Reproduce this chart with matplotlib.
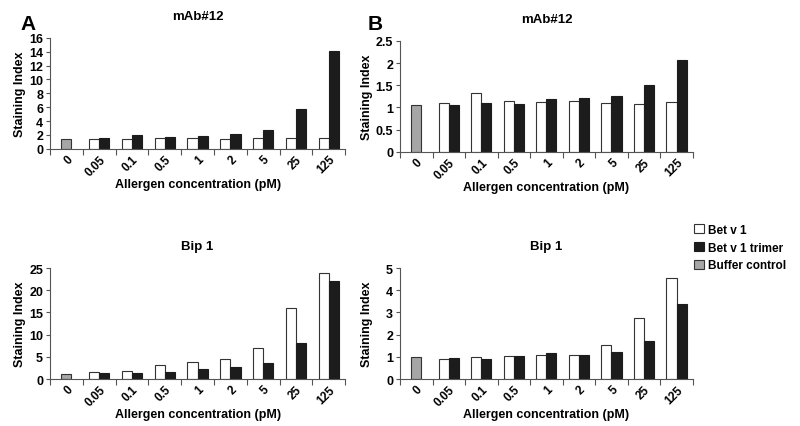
import numpy as np
import matplotlib
matplotlib.use("Agg")
import matplotlib.pyplot as plt
from matplotlib.patches import Patch

plt.rcParams['font.family'] = ['Liberation Sans', 'DejaVu Sans']
plt.rcParams['font.weight'] = 'bold'

concs = ['0', '0.05', '0.1', '0.5', '1', '2', '5', '25', '125']

# buffer control (category 0 only)
buf_a_top = 1.38
buf_b_top = 1.05
buf_a_bot = 1.05
buf_b_bot = 0.98

# Bet v 1 / Bet v 1 trimer for categories 0.05 .. 125
betv1_a_top = [1.4, 1.45, 1.55, 1.55, 1.45, 1.6, 1.6, 1.55]
trimer_a_top = [1.5, 2.05, 1.75, 1.9, 2.15, 2.75, 5.7, 14.1]
betv1_b_top = [1.10, 1.33, 1.15, 1.12, 1.15, 1.10, 1.07, 1.13]
trimer_b_top = [1.05, 1.10, 1.08, 1.20, 1.22, 1.25, 1.51, 2.06]
betv1_a_bot = [1.65, 1.9, 3.05, 3.75, 4.4, 7.0, 16.0, 23.9]
trimer_a_bot = [1.35, 1.3, 1.65, 2.3, 2.7, 3.7, 8.2, 22.1]
betv1_b_bot = [0.90, 0.98, 1.02, 1.07, 1.10, 1.52, 2.76, 4.53]
trimer_b_bot = [0.95, 0.90, 1.02, 1.17, 1.10, 1.20, 1.72, 3.39]

fig = plt.figure(figsize=(8, 4.27), dpi=100)

panels = [
    ([0.0625, 0.649, 0.369, 0.26], 'mAb#12', buf_a_top, betv1_a_top, trimer_a_top, 16, 2, -0.102),
    ([0.5, 0.642, 0.366, 0.26], 'mAb#12', buf_b_top, betv1_b_top, trimer_b_top, 2.5, 0.5, -0.113),
    ([0.0625, 0.110, 0.369, 0.26], 'Bip 1', buf_a_bot, betv1_a_bot, trimer_a_bot, 25, 5, -0.102),
    ([0.5, 0.110, 0.366, 0.26], 'Bip 1', buf_b_bot, betv1_b_bot, trimer_b_bot, 5, 1, -0.113),
]

w = 0.31
edge = '#333333'
for rect, title, buf, wv, bv, ymax, step, ylx in panels:
    ax = fig.add_axes(rect)
    x = np.arange(1, len(concs))
    ax.bar(0, buf, width=w, color='#a6a6a6', edgecolor=edge, linewidth=0.8)
    ax.bar(x - w / 2, wv, width=w, color='white', edgecolor=edge, linewidth=0.8)
    ax.bar(x + w / 2, bv, width=w, color='#1c1c1c', edgecolor='#1c1c1c', linewidth=0.8)
    ax.set_xlim(-0.5, len(concs) - 0.5)
    ax.set_ylim(0, ymax)
    yt = np.arange(0, ymax + step / 2, step)
    ax.set_yticks(yt)
    ax.set_yticklabels(['%g' % v for v in yt], fontsize=9, fontweight='bold')
    ax.set_xticks(np.arange(len(concs)))
    ax.set_xticklabels(concs, rotation=45, ha='right', rotation_mode='anchor',
                       fontsize=8.5, fontweight='bold')
    ax.tick_params(axis='x', which='major', length=0, pad=3)
    ax.set_xticks(np.arange(-0.5, len(concs)), minor=True)
    ax.tick_params(axis='x', which='minor', length=4, width=0.8, color='#555555')
    ax.tick_params(axis='y', length=3, width=0.8, color='#555555', pad=2)
    for s in ['top', 'right']:
        ax.spines[s].set_visible(False)
    for s in ['left', 'bottom']:
        ax.spines[s].set_color('#555555')
        ax.spines[s].set_linewidth(0.8)
    ax.text(0.5, 1.2, title, transform=ax.transAxes, ha='center', va='center',
            fontsize=9.5, fontweight='bold')
    ax.set_ylabel('Staining Index', fontsize=9, fontweight='bold')
    ax.yaxis.set_label_coords(ylx, 0.5)
    ax.yaxis.label.set_va('center')
    ax.set_xlabel('Allergen concentration (pM)', fontsize=9, fontweight='bold')
    ax.xaxis.set_label_coords(0.5, -0.315)
    ax.xaxis.label.set_va('center')

fig.text(0.025, 0.965, 'A', fontsize=15, fontweight='bold', va='top', ha='left')
fig.text(0.46, 0.965, 'B', fontsize=15, fontweight='bold', va='top', ha='left')

handles = [Patch(facecolor='white', edgecolor=edge, linewidth=0.8),
           Patch(facecolor='#1c1c1c', edgecolor='#1c1c1c', linewidth=0.8),
           Patch(facecolor='#a6a6a6', edgecolor=edge, linewidth=0.8)]
fig.legend(handles, ['Bet v 1', 'Bet v 1 trimer', 'Buffer control'],
           loc='upper left', bbox_to_anchor=(0.862, 0.485), frameon=False,
           prop={'size': 8.5, 'weight': 'bold'}, handlelength=0.8, handleheight=0.8,
           handletextpad=0.4, labelspacing=0.5, borderaxespad=0)

fig.savefig('out.png', dpi=100)
